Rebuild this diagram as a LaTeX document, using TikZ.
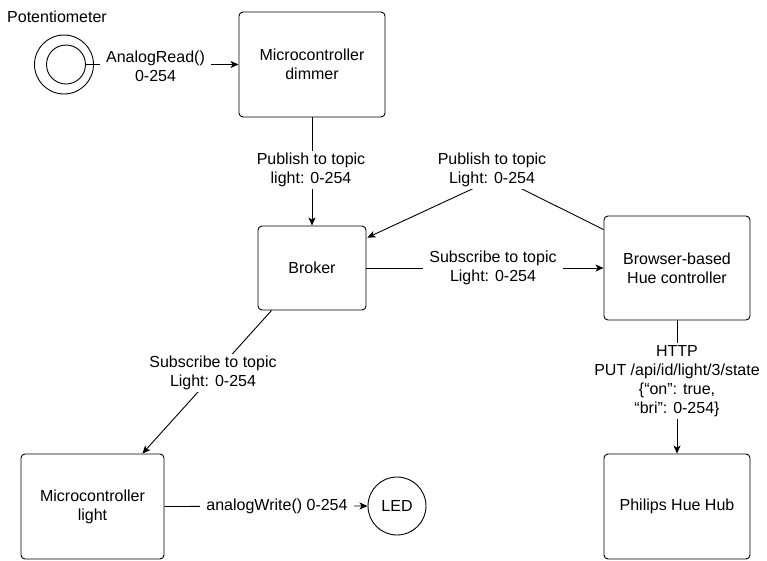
\documentclass[tikz,border=0pt]{standalone}
\usepackage{fontspec}
\setmainfont{Liberation Sans}
\usetikzlibrary{arrows.meta,calc,backgrounds}
\begin{document}
\begin{tikzpicture}[x=1pt,y=-1pt,
  font=\fontsize{16}{19}\selectfont,
  box/.style={draw,rounded corners=4pt,align=center,inner sep=0pt,line width=0.9pt},
  lbl/.style={fill=white,align=center,inner xsep=6pt,inner ysep=2pt},
  conn/.style={line width=0.9pt},
  arr/.style={conn,-{Stealth[length=8pt,width=7pt,inset=2pt]}}]
\useasboundingbox (0,0) rectangle (767,560);
% boxes
\node[box,minimum width=146pt,minimum height=105pt] (dimmer) at (312,64.5) {Microcontroller\\dimmer};
\node[box,minimum width=108pt,minimum height=84pt] (broker) at (312,268) {Broker};
\node[box,minimum width=146pt,minimum height=104pt] (hue) at (677,268) {Browser-based\\Hue controller};
\node[box,minimum width=143pt,minimum height=105pt] (mlight) at (92.5,506.5) {Microcontroller\\light};
\node[box,minimum width=146pt,minimum height=105pt] (hub) at (677,506.5) {Philips Hue Hub};
% potentiometer and LED
\node (potlabel) at (57,17) {Potentiometer};
\node[draw,circle,line width=0.9pt,minimum size=59pt,inner sep=0pt] (potout) at (64,64.5) {};
\node[draw,circle,line width=0.9pt,minimum size=39pt,inner sep=0pt] (potin) at (66,64.5) {};
\node[draw,circle,line width=0.9pt,minimum size=58pt,inner sep=0pt] (led) at (397,506) {LED};
% labels
\node[lbl] (l1) at (155.5,66) {AnalogRead()\\0-254};
\node[lbl] (l2) at (311,170) {Publish to topic\\light: 0-254};
\node[lbl] (l3) at (492,170) {Publish to topic\\Light: 0-254};
\node[lbl] (l4) at (493,268) {Subscribe to topic\\Light: 0-254};
\node[lbl] (l5) at (213,373) {Subscribe to topic\\Light: 0-254};
\node[lbl] (l6) at (277,506) {analogWrite() 0-254};
\node[lbl] (l7) at (677,381) {HTTP\\PUT /api/id/light/3/state\\\{“on”: true,\\“bri”: 0-254\}};
% anchor points
\coordinate (hueA) at ($(hue.north west)+(0,14)$);
\coordinate (brokerA) at ($(broker.north east)+(1,12)$);
\coordinate (w) at (498,177);
\coordinate (brokerB) at ($(broker.south west)+(14,0)$);
\coordinate (mlightA) at ($(mlight.north east)+(-22,0)$);
% connectors
\begin{pgfonlayer}{background}
\draw[arr] (potin.east) -- (potin.east -| dimmer.west);
\draw[arr] (dimmer.south) -- (broker.north);
\draw[arr] (hueA) -- (w) -- (brokerA);
\draw[arr] (broker.east) -- (hue.west);
\draw[arr] (brokerB) -- (mlightA);
\draw[arr] (mlight.east) -- (led.west);
\draw[arr] (hue.south) -- (hub.north);
\end{pgfonlayer}
\end{tikzpicture}
\end{document}
